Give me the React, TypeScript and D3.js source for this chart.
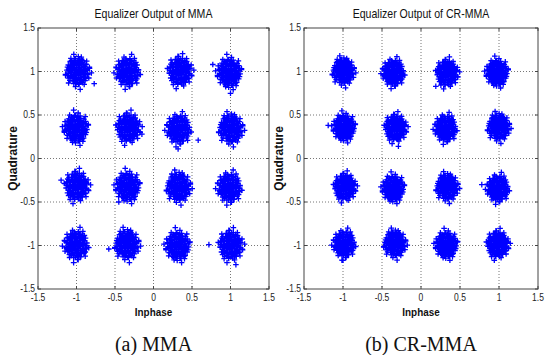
import React from "react";
import * as d3 from "d3";

// axis ticks shared by both panels
const axisTicks = [-1.5, -1, -0.5, 0, 0.5, 1, 1.5];
const gridTicks = [-1, -0.5, 0, 0.5, 1];

// cluster centres (16-QAM, row by row from the top)
const mmaCenters: [number, number][] = [
  [-0.99, 1.0], [-0.33, 1.0], [0.34, 1.0], [0.99, 0.99],
  [-1.0, 0.35], [-0.33, 0.35], [0.33, 0.34], [1.0, 0.34],
  [-1.0, -0.32], [-0.33, -0.32], [0.32, -0.33], [0.99, -0.33],
  [-1.0, -0.99], [-0.35, -0.99], [0.32, -1.0], [1.0, -1.0],
];
const crCenters: [number, number][] = [
  [-1.0, 1.0], [-0.35, 0.99], [0.33, 0.98], [0.98, 0.99],
  [-0.98, 0.36], [-0.33, 0.35], [0.32, 0.35], [0.99, 0.36],
  [-0.98, -0.33], [-0.35, -0.34], [0.33, -0.33], [0.99, -0.34],
  [-0.98, -0.98], [-0.34, -0.98], [0.33, -0.99], [0.98, -0.99],
];

// cluster spread (x, y) in data units
const mmaSpread: [number, number] = [0.15, 0.165];
const crSpread: [number, number] = [0.135, 0.15];

// normalized noise shape of one cluster
const noiseOffsets: [number, number][] = [
  [0, 0], [0.12, 0.08], [-0.1, 0.15], [0.05, -0.15], [-0.15, -0.05],
  [0.3, 0.05], [0.2, 0.25], [-0.05, 0.32], [-0.28, 0.18], [-0.3, -0.12], [-0.12, -0.3], [0.15, -0.28], [0.32, -0.12],
  [0.5, 0.1], [0.38, 0.38], [0.1, 0.52], [-0.25, 0.45], [-0.5, 0.2], [-0.52, -0.1], [-0.35, -0.4], [-0.05, -0.52], [0.3, -0.42], [0.5, -0.2],
  [0.72, 0.0], [0.62, 0.35], [0.4, 0.6], [0.05, 0.72], [-0.32, 0.65], [-0.6, 0.42], [-0.72, 0.05], [-0.62, -0.35], [-0.38, -0.62], [0, -0.72], [0.36, -0.62], [0.62, -0.38],
  [0.88, 0.15], [0.75, 0.5], [0.5, 0.75], [0.2, 0.88], [-0.15, 0.9], [-0.5, 0.75], [-0.78, 0.45], [-0.9, 0.1], [-0.85, -0.3], [-0.65, -0.62], [-0.3, -0.85], [0.1, -0.9], [0.45, -0.78], [0.75, -0.5], [0.9, -0.2],
  [1.05, 0.3], [0.82, 0.72], [0.35, 1.0], [-0.55, 0.92], [-1.02, -0.2], [-0.75, -0.8], [-0.15, -1.05], [0.6, -0.9], [1.0, -0.45],
  [1.22, -0.1], [-0.3, 1.2], [0.25, -1.25],
];

// per-cluster mirroring of the noise shape, so the blobs differ
const clusterFlips: [number, number][] = [
  [1, 1], [-1, 1], [1, -1], [-1, -1],
  [-1, -1], [1, -1], [-1, 1], [1, 1],
  [1, -1], [-1, -1], [1, 1], [-1, 1],
  [-1, 1], [1, 1], [-1, -1], [1, -1],
];

// stray points seen outside the blobs
const mmaOutliers: [number, number][] = [
  [0.72, -0.99], [0.58, 0.21], [0.32, 0.11], [-0.58, -1.04], [-1.2, -0.25],
  [-0.77, 0.86], [0.77, 1.08], [-1.15, 0.33], [-0.15, 0.28], [1.0, 0.75],
  [-0.45, -0.5], [1.07, -1.22],
];
const crOutliers: [number, number][] = [
  [0.19, 0.83], [-1.19, 0.38], [-0.29, 0.14], [-1.0, -1.17], [0.78, -0.3],
];

const W = 549;
const H = 355;
const top = 28;
const bottom = 289;
const blue = "#0000ff";
const narrow = "'Liberation Sans Narrow', 'Arial Narrow', 'Liberation Sans', sans-serif";

type PanelProps = {
  x0: number;
  x1: number;
  title: string;
  caption: string;
  centers: [number, number][];
  spread: [number, number];
  outliers: [number, number][];
  id: string;
};

const Panel = ({ x0, x1, title, caption, centers, spread, outliers, id }: PanelProps) => {
  const x = d3.scaleLinear().domain([-1.5, 1.5]).range([x0, x1]);
  const y = d3.scaleLinear().domain([-1.5, 1.5]).range([bottom, top]);
  const arm = 2.8;
  const plus = (px: number, py: number) =>
    `M${(px - arm).toFixed(1)},${py.toFixed(1)}h${arm * 2}M${px.toFixed(1)},${(py - arm).toFixed(1)}v${arm * 2}`;

  let d = "";
  centers.forEach(([cx, cy], i) => {
    const [fx, fy] = clusterFlips[i];
    noiseOffsets.forEach(([ox, oy]) => {
      d += plus(x(cx + ox * fx * spread[0]), y(cy + oy * fy * spread[1]));
      // second pass with the shape transposed, fills the blob
      d += plus(x(cx - oy * fy * spread[0] * 0.85), y(cy + ox * fx * spread[1] * 0.85));
    });
  });
  outliers.forEach(([ox, oy]) => {
    d += plus(x(ox), y(oy));
  });

  const midX = (x0 + x1) / 2;
  return (
    <g>
      <defs>
        <clipPath id={id}>
          <rect x={x0} y={top} width={x1 - x0} height={bottom - top} />
        </clipPath>
      </defs>
      <rect x={x0} y={top} width={x1 - x0} height={bottom - top} fill="#fff" />
      {gridTicks.map((t) => (
        <g key={t}>
          <line x1={x(t)} x2={x(t)} y1={top} y2={bottom} stroke="#777" strokeWidth={1} strokeDasharray="1,2" />
          <line x1={x0} x2={x1} y1={y(t)} y2={y(t)} stroke="#777" strokeWidth={1} strokeDasharray="1,2" />
        </g>
      ))}
      <path d={d} stroke={blue} strokeWidth={1.3} fill="none" clipPath={`url(#${id})`} />
      <rect x={x0} y={top} width={x1 - x0} height={bottom - top} fill="none" stroke="#444" strokeWidth={1} />
      {axisTicks.map((t) => (
        <g key={t} fontFamily={narrow} fontSize={10} fill="#222">
          <line x1={x(t)} x2={x(t)} y1={bottom} y2={bottom - 3} stroke="#444" />
          <line x1={x(t)} x2={x(t)} y1={top} y2={top + 3} stroke="#444" />
          <line x1={x0} x2={x0 + 3} y1={y(t)} y2={y(t)} stroke="#444" />
          <line x1={x1} x2={x1 - 3} y1={y(t)} y2={y(t)} stroke="#444" />
          <text x={x(t)} y={bottom + 12} textAnchor="middle" transform={`translate(${x(t)},0) scale(0.85,1) translate(${-x(t)},0)`}>{t}</text>
          <text x={x0 - 3} y={y(t) + 3.5} textAnchor="end" transform={`translate(${x0 - 3},0) scale(0.85,1) translate(${-(x0 - 3)},0)`}>{t}</text>
        </g>
      ))}
      <text x={midX} y={18} textAnchor="middle" fontFamily={narrow} fontSize={12} fill="#111"
        transform={`translate(${midX},0) scale(0.88,1) translate(${-midX},0)`}>
        {title}
      </text>
      <text x={midX} y={316} textAnchor="middle" fontFamily={narrow} fontSize={11} fontWeight="bold" fill="#111"
        transform={`translate(${midX},0) scale(0.9,1) translate(${-midX},0)`}>
        Inphase
      </text>
      <text
        transform={`translate(${x0 - 21},${(top + bottom) / 2}) rotate(-90)`}
        textAnchor="middle"
        fontFamily={narrow}
        fontSize={12}
        fontWeight="bold"
        fill="#111"
      >
        Quadrature
      </text>
      <text x={midX} y={351} textAnchor="middle" fontFamily="'Liberation Serif', 'DejaVu Serif', serif" fontSize={20} fill="#111">
        {caption}
      </text>
    </g>
  );
};

export default function App() {
  return (
    <svg width={W} height={H} style={{ position: "absolute", left: 0, top: 0, background: "#fff" }}>
      <rect width={W} height={H} fill="#fff" />
      <Panel
        id="clipA"
        x0={38}
        x1={269}
        title="Equalizer Output of MMA"
        caption="(a)  MMA"
        centers={mmaCenters}
        spread={mmaSpread}
        outliers={mmaOutliers}
      />
      <Panel
        id="clipB"
        x0={304}
        x1={538}
        title="Equalizer Output of CR-MMA"
        caption="(b)  CR-MMA"
        centers={crCenters}
        spread={crSpread}
        outliers={crOutliers}
      />
    </svg>
  );
}
